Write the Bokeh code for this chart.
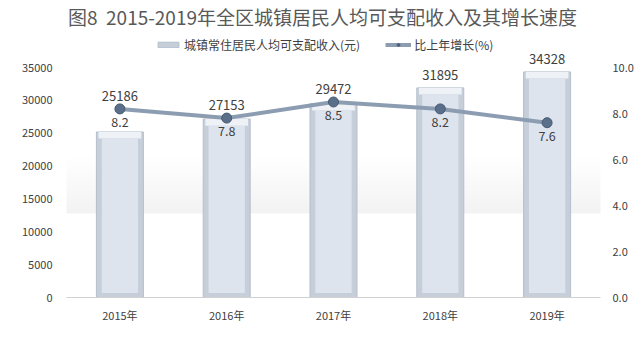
from bokeh.plotting import figure
from bokeh.models import Range1d, LinearAxis, Legend, LegendItem, FixedTicker, PrintfTickFormatter, ColumnDataSource, Label
from bokeh.core.properties import value
from bokeh.embed import file_html
from bokeh.resources import INLINE

years = ["2015年", "2016年", "2017年", "2018年", "2019年"]
income = [25186, 27153, 29472, 31895, 34328]
growth = [8.2, 7.8, 8.5, 8.2, 7.6]
left_ticks = [0, 5000, 10000, 15000, 20000, 25000, 30000, 35000]
right_ticks = [0, 2, 4, 6, 8, 10]

FONT = "Noto Sans CJK SC"
TXT = "#404040"

ymax = 35000
rmax = 10.0
scale = ymax / rmax
# frame spans the full height above the x axis; axis maxima sit 230px up
stretch = 297.0 / 230.0

src = ColumnDataSource(dict(
    x=years, inc=income, g=growth,
    inc_lbl=[str(v) for v in income],
    g_lbl=["%.1f" % v for v in growth],
    lbl_y=[max(i, g * scale) for i, g in zip(income, growth)],
    bevel_bot=[i - 1000 for i in income],
))

p = figure(width=643, height=355, x_range=years, y_range=Range1d(0, ymax * stretch),
           output_backend="svg", toolbar_location=None,
           min_border_left=66, min_border_right=43, min_border_top=0, min_border_bottom=58)
p.extra_y_ranges = {"pct": Range1d(0, rmax * stretch)}

p.outline_line_color = None
p.grid.grid_line_color = None
p.background_fill_color = "white"

# soft grey background band (decoration)
band_lo = 12800
for k in range(12):
    p.quad(left=-1, right=6, bottom=band_lo + k * 700, top=band_lo + (k + 1) * 700,
           fill_color="#d8d8d8", fill_alpha=0.30 * (1 - k / 12.0), line_color=None)

# bars: outer frame + top bevel + inner face
outer = p.vbar(x="x", top="inc", width=0.44, source=src, fill_color="#c6ced9", line_color="#b4bfcc")
p.vbar(x="x", top="inc", bottom="bevel_bot", width=0.40, source=src, fill_color="#eef2f6", line_color=None)
p.vbar(x="x", top="bevel_bot", bottom=700, width=0.34, source=src, fill_color="#dde4ee", line_color=None)

# line
ln = p.line(x="x", y="g", y_range_name="pct", source=src, line_color="#8c9db2", line_width=4)
mk = p.scatter(x="x", y="g", y_range_name="pct", source=src, size=10, fill_color="#5a6f89",
               line_color="#465a72", line_width=1)

# labels
p.text(x="x", y="lbl_y", text="inc_lbl", source=src, text_align="center", text_baseline="bottom",
       y_offset=-8, text_font=value(FONT), text_font_size="13px", text_color=TXT)
p.text(x="x", y="g", text="g_lbl", source=src, y_range_name="pct", text_align="center",
       text_baseline="middle", y_offset=13, text_font=value(FONT), text_font_size="12.5px", text_color=TXT)

# title
p.add_layout(Label(x=256, y=281, x_units="screen", y_units="screen",
                   text="图8\u00a0\u00a02015-2019年全区城镇居民人均可支配收入及其增长速度",
                   text_align="center", text_baseline="middle", text_font=FONT,
                   text_font_size="19px", text_color="#595959"))

# axes
p.yaxis.ticker = FixedTicker(ticks=left_ticks)
p.yaxis.axis_line_color = None
p.yaxis.major_tick_line_color = None
p.yaxis.major_tick_out = 0
p.yaxis.minor_tick_line_color = None
p.yaxis.major_label_text_font = FONT
p.yaxis.major_label_text_font_size = "11px"
p.yaxis.major_label_text_color = TXT
p.yaxis.major_label_standoff = 14

ra = LinearAxis(y_range_name="pct", ticker=FixedTicker(ticks=right_ticks),
                formatter=PrintfTickFormatter(format="%.1f"))
ra.axis_line_color = None
ra.major_tick_line_color = None
ra.major_tick_out = 0
ra.minor_tick_line_color = None
ra.major_label_text_font = FONT
ra.major_label_text_font_size = "11px"
ra.major_label_text_color = TXT
ra.major_label_standoff = 12
p.add_layout(ra, "right")

p.xaxis.axis_line_color = "#d0d0d0"
p.xaxis.major_tick_line_color = None
p.xaxis.major_tick_out = 0
p.xaxis.minor_tick_line_color = None
p.xaxis.major_label_text_font = FONT
p.xaxis.major_label_text_font_size = "11px"
p.xaxis.major_label_text_color = TXT
p.xaxis.major_label_standoff = 9

legend = Legend(items=[LegendItem(label="城镇常住居民人均可支配收入(元)", renderers=[outer]),
                       LegendItem(label="比上年增长(%)", renderers=[ln, mk])],
                orientation="horizontal", location=(89, 244),
                label_text_font=FONT, label_text_font_size="12px", label_text_color=TXT,
                glyph_width=26, glyph_height=7, spacing=25, padding=0, margin=0,
                label_standoff=3, border_line_color=None, background_fill_alpha=0)
p.add_layout(legend, "center")

open("out.html", "w").write(file_html(p, INLINE))
